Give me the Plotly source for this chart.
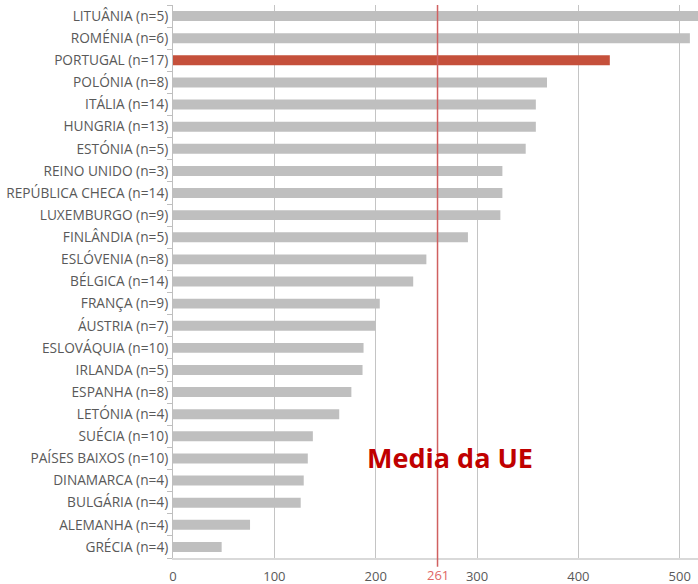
import plotly.graph_objects as go

countries = [
    "LITUÂNIA (n=5)", "ROMÉNIA (n=6)", "PORTUGAL (n=17)", "POLÓNIA (n=8)",
    "ITÁLIA (n=14)", "HUNGRIA (n=13)", "ESTÓNIA (n=5)", "REINO UNIDO (n=3)",
    "REPÚBLICA CHECA (n=14)", "LUXEMBURGO (n=9)", "FINLÂNDIA (n=5)",
    "ESLÓVENIA (n=8)", "BÉLGICA (n=14)", "FRANÇA (n=9)", "ÁUSTRIA (n=7)",
    "ESLOVÁQUIA (n=10)", "IRLANDA (n=5)", "ESPANHA (n=8)", "LETÓNIA (n=4)",
    "SUÉCIA (n=10)", "PAÍSES BAIXOS (n=10)", "DINAMARCA (n=4)",
    "BULGÁRIA (n=4)", "ALEMANHA (n=4)", "GRÉCIA (n=4)",
]
values = [540, 510, 431, 369, 358, 358, 348, 325, 325, 323, 291, 250, 237,
          204, 200, 188, 187, 176, 164, 138, 133, 129, 126, 76, 48]
highlight = "PORTUGAL (n=17)"
eu_mean = 261
eu_label = "Media da UE"
x_ticks = [0, 100, 200, 300, 400, 500]

colors = ["#C5503B" if c == highlight else "#BFBFBF" for c in countries]

fig = go.Figure(go.Bar(
    x=values, y=countries, orientation="h",
    marker=dict(color=colors, line=dict(width=0)),
))

fig.add_shape(type="line", xref="x", yref="paper", x0=eu_mean, x1=eu_mean,
              y0=-0.016, y1=1.0, line=dict(color="#D06060", width=1.5))
fig.add_annotation(x=eu_mean, y=0, xref="x", yref="paper", yanchor="top",
                   yshift=-6, text=str(eu_mean), showarrow=False,
                   font=dict(family="Open Sans, Liberation Sans", size=13, color="#E06666"))
fig.add_annotation(x=0.528, y=0.145, xref="paper", yref="paper",
                   text="<b>" + eu_label + "</b>", showarrow=False,
                   font=dict(family="Open Sans, Liberation Sans", size=27, color="#C00000"))

fig.update_layout(
    width=698, height=584,
    margin=dict(l=173, r=0, t=5, b=26),
    plot_bgcolor="white", paper_bgcolor="white",
    showlegend=False, bargap=0.55,
    font=dict(family="Open Sans, Liberation Sans", size=12, color="#595959"),
    xaxis=dict(range=[0, 518], tickvals=x_ticks, showgrid=True,
               gridcolor="#C4C4C4", gridwidth=1, zeroline=False,
               showline=True, linecolor="#D9D9D9", linewidth=2,
               ticks="", automargin=False, ticklabelstandoff=5,
               tickfont=dict(size=13, color="#595959")),
    yaxis=dict(categoryorder="array", categoryarray=countries[::-1],
               showline=True, linecolor="#BFBFBF", linewidth=1,
               ticks="outside", ticklen=5, tickcolor="#BFBFBF",
               tickson="boundaries", ticklabelstandoff=1, automargin=False,
               tickfont=dict(size=13.7, color="#595959")),
)

fig.write_html("out.html", config={"displayModeBar": False},
               post_script="document.body.style.margin='0';")
